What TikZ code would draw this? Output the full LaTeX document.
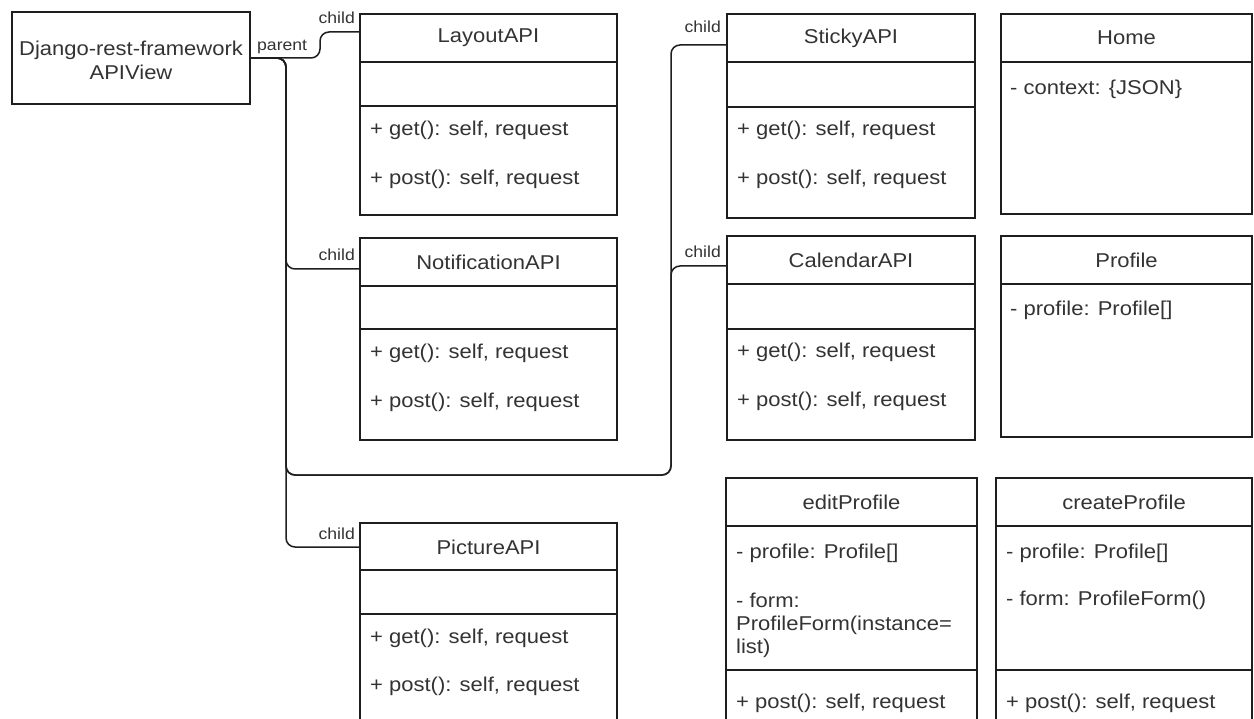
\documentclass[tikz,border=0pt]{standalone}
\usepackage{fontspec}
\setmainfont[FakeStretch=1.1]{Liberation Sans}
\usetikzlibrary{calc}
\definecolor{ink}{HTML}{1E1E1E}
\definecolor{txt}{HTML}{333333}
\begin{document}
\begin{tikzpicture}[x=1pt,y=-1pt,
  cls/.style={draw=ink,line width=1.5pt,rectangle,anchor=north west,inner sep=0pt,outer sep=0pt},
  sepline/.style={draw=ink,line width=1.5pt},
  conn/.style={draw=ink,line width=1.5pt,rounded corners=9pt},
  hd/.style={font=\fontsize{20}{24}\selectfont,text=txt,inner sep=0pt},
  mb/.style={font=\fontsize{20}{24}\selectfont,text=txt,inner sep=0pt,anchor=west},
  lbl/.style={font=\fontsize{16}{18}\selectfont,text=txt,inner sep=0pt,anchor=base east}]
\path[use as bounding box] (0,0) rectangle (1254,719);
\clip (0,0) rectangle (1254,719);

% class boxes
\node[cls,minimum width=238pt,minimum height=92pt] (apiview) at (12,12) {};
\node[cls,minimum width=257pt,minimum height=201pt] (layout) at (360,14) {};
\node[cls,minimum width=257pt,minimum height=202pt] (notif) at (360,238) {};
\node[cls,minimum width=257pt,minimum height=230pt] (picture) at (360,523) {};
\node[cls,minimum width=248pt,minimum height=204pt] (sticky) at (727,14) {};
\node[cls,minimum width=248pt,minimum height=204pt] (calendar) at (727,236) {};
\node[cls,minimum width=251pt,minimum height=200pt] (home) at (1001,14) {};
\node[cls,minimum width=251pt,minimum height=201pt] (profile) at (1001,236) {};
\node[cls,minimum width=251pt,minimum height=270pt] (edit) at (726,478) {};
\node[cls,minimum width=256pt,minimum height=270pt] (create) at (996,478) {};

% compartment separators
\foreach \b/\a/\c in {layout/48/92, notif/48/91, picture/47/91, sticky/48/93, calendar/48/93, edit/48/192, create/48/192}{
  \draw[sepline] ($(\b.north west)+(0,\a)$) -- ($(\b.north east)+(0,\a)$);
  \draw[sepline] ($(\b.north west)+(0,\c)$) -- ($(\b.north east)+(0,\c)$);
}
\foreach \b in {home, profile}{
  \draw[sepline] ($(\b.north west)+(0,48)$) -- ($(\b.north east)+(0,48)$);
}

% texts
\node[hd,align=center] (apitxt) at ($(apiview.center)+(0,2)$) {Django-rest-framework\\APIView};
\node[hd] (layouth) at ($(layout.north)+(0,24)$) {LayoutAPI};
\node[mb] (layoutg) at (370,130) {+ get(): self, request};
\node[mb] (layoutp) at (370,179) {+ post(): self, request};
\node[hd] (notifh) at ($(notif.north)+(0,24)$) {NotificationAPI};
\node[mb] (notifg) at (370,353) {+ get(): self, request};
\node[mb] (notifp) at (370,402) {+ post(): self, request};
\node[hd] (pictureh) at ($(picture.north)+(0,24)$) {PictureAPI};
\node[mb] (pictureg) at (370,638) {+ get(): self, request};
\node[mb] (picturep) at (370,686) {+ post(): self, request};
\node[hd] (stickyh) at ($(sticky.north)+(0,24)$) {StickyAPI};
\node[mb] (stickyg) at (737,130) {+ get(): self, request};
\node[mb] (stickyp) at (737,179) {+ post(): self, request};
\node[hd] (calendarh) at ($(calendar.north)+(0,24)$) {CalendarAPI};
\node[mb] (calendarg) at (737,352) {+ get(): self, request};
\node[mb] (calendarp) at (737,401) {+ post(): self, request};
\node[hd] (homeh) at ($(home.north)+(0,24)$) {Home};
\node[mb] (homea) at (1010,89) {- context: \{JSON\}};
\node[hd] (profileh) at ($(profile.north)+(0,24)$) {Profile};
\node[mb] (profilea) at (1010,310) {- profile: Profile[]};
\node[hd] (edith) at ($(edit.north)+(0,24)$) {editProfile};
\node[mb] (edita) at (736,553) {- profile: Profile[]};
\node[mb] (editb1) at (736,600) {- form:};
\node[mb] (editb2) at (736,625) {ProfileForm(instance=};
\node[mb] (editb3) at (736,648) {list)};
\node[mb] (editp) at (736,703) {+ post(): self, request};
\node[hd] (createh) at ($(create.north)+(0,24)$) {createProfile};
\node[mb] (createa) at (1006,553) {- profile: Profile[]};
\node[mb] (createb) at (1006,600) {- form: ProfileForm()};
\node[mb] (createp) at (1006,703) {+ post(): self, request};

% attach points
\coordinate (lIn) at ($(layout.north west)+(0,18)$);
\coordinate (nIn) at ($(notif.north west)+(0,31)$);
\coordinate (pIn) at ($(picture.north west)+(0,24)$);
\coordinate (sIn) at ($(sticky.north west)+(0,31)$);
\coordinate (cIn) at ($(calendar.north west)+(0,30)$);
\coordinate (trunk) at (286,475);

% connectors
\draw[conn] (apiview.east) -| ($(lIn)+(-40,0)$) -- (lIn);
\draw[conn] (apiview.east) -| ($(nIn)+(-74,0)$) -- (nIn);
\draw[conn] (apiview.east) -| ($(pIn)+(-74,0)$) -- (pIn);
\draw[conn] (apiview.east) -| (trunk) -| ($(sIn)+(-56,0)$) -- (sIn);
\draw[conn] (apiview.east) -| (trunk) -| ($(cIn)+(-56,0)$) -- (cIn);

% edge labels
\node[lbl,anchor=base west] (parentlbl) at (257,51) {parent};
\node[lbl] (lchild) at ($(lIn)+(-5,-8)$) {child};
\node[lbl] (nchild) at ($(nIn)+(-5,-8)$) {child};
\node[lbl] (pchild) at ($(pIn)+(-5,-8)$) {child};
\node[lbl] (schild) at ($(sIn)+(-6,-12)$) {child};
\node[lbl] (cchild) at ($(cIn)+(-6,-8)$) {child};
\end{tikzpicture}
\end{document}
